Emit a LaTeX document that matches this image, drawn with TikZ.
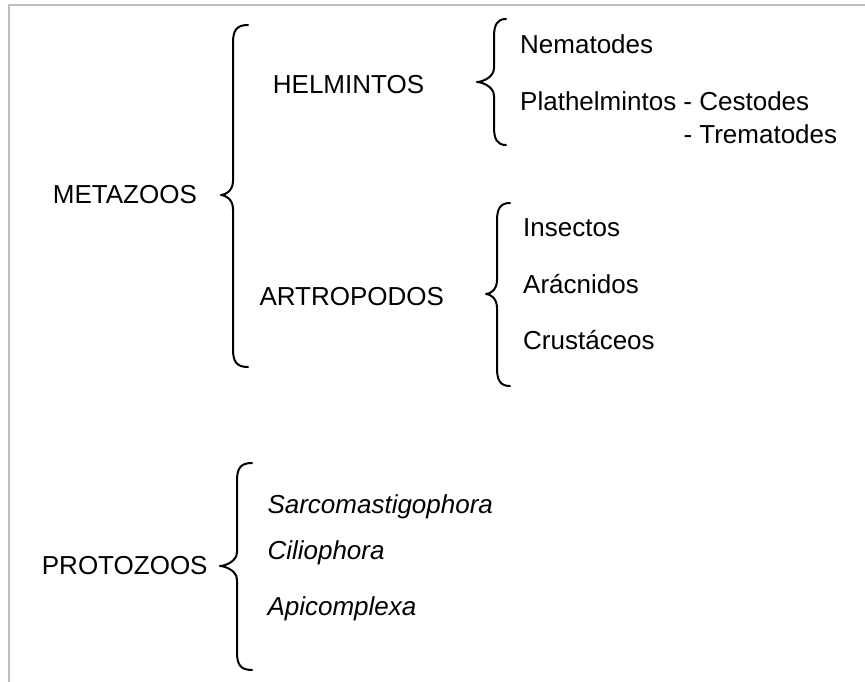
\documentclass[tikz,border=0pt]{standalone}
\usepackage{fontspec}
\setmainfont{Liberation Sans}
\begin{document}
\begin{tikzpicture}[x=1pt,y=-1pt,
  lbl/.style={anchor=base west,inner sep=0pt,font=\fontsize{26}{31}\selectfont},
  itl/.style={lbl,font=\fontsize{26}{31}\selectfont\itshape},
  bracestyle/.style={draw=black,line width=2pt,line cap=round,line join=round},
  framestyle/.style={draw=black!25,line width=1.8pt}]
\useasboundingbox (0,0) rectangle (865,682);
\newcommand\drawbrace[6]{%
 \draw[bracestyle] (#1,#4) .. controls (#2+3,#4) and (#2,#4+6) .. (#2,#4+18)
   -- (#2,#5-14) .. controls (#2,#5-4) and (#3+4,#5) .. (#3,#5)
   .. controls (#3+4,#5) and (#2,#5+4) .. (#2,#5+14)
   -- (#2,#6-18) .. controls (#2,#6-6) and (#2+3,#6) .. (#1,#6);}
% frame
\draw[framestyle] (9,682) -- (9,5) -- (865,5);
% braces
\drawbrace{248}{233}{221}{25}{195}{367}
\drawbrace{506}{494}{477}{19}{82}{145}
\drawbrace{510}{497}{486}{203}{294}{386}
\drawbrace{252}{237}{220}{463}{566}{670}
% labels
\node[lbl] (metazoos) at (52.7,204) {METAZOOS};
\node[lbl] (helmintos) at (272.7,94) {HELMINTOS};
\node[lbl] (artropodos) at (259.3,305) {ARTROPODOS};
\node[lbl] (nematodes) at (520,54) {Nematodes};
\node[lbl] (plathel) at (520,110.5) {Plathelmintos - Cestodes};
\node[lbl] (tremat) at (683.3,144) {- Trematodes};
\node[lbl] (insectos) at (523,236) {Insectos};
\node[lbl] (aracnidos) at (523,293) {Arácnidos};
\node[lbl] (crustaceos) at (523,349) {Crustáceos};
\node[lbl] (protozoos) at (41.7,574) {PROTOZOOS};
\node[itl] (sarco) at (267.3,513.3) {Sarcomastigophora};
\node[itl] (cilio) at (267.3,559) {Ciliophora};
\node[itl] (apico) at (267.3,615) {Apicomplexa};
\end{tikzpicture}
\end{document}
